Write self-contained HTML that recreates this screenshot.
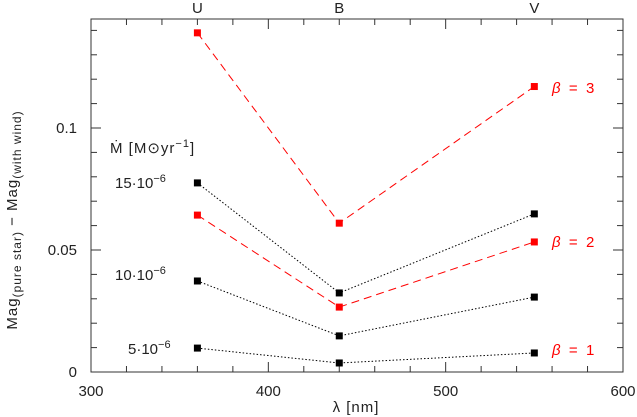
<!DOCTYPE html>
<html><head><meta charset="utf-8"><style>
body{margin:0;background:#fff}
svg{display:block;font-family:"Liberation Sans",sans-serif}
</style></head><body>
<svg id="c" width="637" height="417" viewBox="0 0 637 417">
<g id="axes"></g>
<g id="series"></g>
<g id="labels" font-size="15" fill="#222">
<text x="356" y="412" text-anchor="middle" letter-spacing="1">λ [nm]</text>
<text transform="translate(17,220) rotate(-90)" text-anchor="middle" letter-spacing="1">Mag<tspan font-size="12" dy="4">(pure star)</tspan><tspan dy="-4"> − Mag</tspan><tspan font-size="12" dy="4">(with wind)</tspan></text>
<text x="110" y="153" letter-spacing="1">Ṁ&#160;[M<tspan>⊙</tspan>yr<tspan font-size="11" dy="-6">−1</tspan><tspan dy="6">]</tspan></text>
<text x="115" y="188">15·10<tspan font-size="11" dy="-6">−6</tspan></text>
<text x="115" y="280">10·10<tspan font-size="11" dy="-6">−6</tspan></text>
<text x="128" y="354">5·10<tspan font-size="11" dy="-6">−6</tspan></text>
<text x="552" y="93" fill="#f00"><tspan font-style="italic">β</tspan>&#160;&#160;=&#160;&#160;3</text>
<text x="552" y="247" fill="#f00"><tspan font-style="italic">β</tspan>&#160;&#160;=&#160;&#160;2</text>
<text x="552" y="355" fill="#f00"><tspan font-style="italic">β</tspan>&#160;&#160;=&#160;&#160;1</text>
</g>
</svg>
<script>
const bandWl=[360,440,550];
const bandNames=["U","B","V"];
const xTicks=[300,400,500,600];
const yTicks=[0,0.05,0.1];
const yTickLabels=["0","0.05","0.1"];
const beta3=[0.139,0.061,0.117];
const beta2=[0.0643,0.0266,0.0533];
const mdot15=[0.0775,0.0324,0.0648];
const mdot10=[0.0373,0.0148,0.0307];
const mdot5=[0.0098,0.0037,0.0078];
const L=91,R=623,T=19,B=372;
const xs=v=>L+(v-300)*(R-L)/300;
const ys=v=>B-v*2440;
const NS="http://www.w3.org/2000/svg";
function mk(tag,attrs,parent){const e=document.createElementNS(NS,tag);for(const k in attrs)e.setAttribute(k,attrs[k]);parent.appendChild(e);return e;}
const ax=document.getElementById('axes');
const frame=mk('rect',{x:L,y:T,width:R-L,height:B-T,fill:'none',stroke:'#333','stroke-width':1},ax);


for(let v=300;v<=600;v+=20){const x=xs(v);const len=(v%100===0)?10:6;
mk('line',{x1:x,y1:B,x2:x,y2:B-len,stroke:'#333'},ax);
mk('line',{x1:x,y1:T,x2:x,y2:T+len,stroke:'#333'},ax);}
for(let i=0;i<=14;i++){const v=i*0.01;const y=ys(v);const len=(i%5===0)?10:6;
mk('line',{x1:L,y1:y,x2:L+len,y2:y,stroke:'#333'},ax);
mk('line',{x1:R,y1:y,x2:R-len,y2:y,stroke:'#333'},ax);}
xTicks.forEach(v=>{const t=mk('text',{x:xs(v),y:B+24,'text-anchor':'middle','font-size':15,fill:'#222'},ax);t.textContent=v;

});
yTicks.forEach((v,i)=>{const t=mk('text',{x:L-14,y:ys(v)+5,'text-anchor':'end','font-size':15,fill:'#222'},ax);t.textContent=yTickLabels[i];

});
bandWl.forEach((v,i)=>{const t=mk('text',{x:xs(v),y:13,'text-anchor':'middle','font-size':15,fill:'#222'},ax);t.textContent=bandNames[i];

});
const sg=document.getElementById('series');
function series(vals,color,dash,name){
const g=mk('g',{},sg);


const pts=vals.map((v,i)=>xs(bandWl[i])+','+ys(v)).join(' ');
mk('polyline',{points:pts,fill:'none',stroke:color,'stroke-width':1,'stroke-dasharray':dash},g);
vals.forEach((v,i)=>{const r=mk('rect',{x:xs(bandWl[i])-3.5,y:ys(v)-3.5,width:7,height:7,fill:color},g);

});
}
series(mdot15,'#000','1.5 2','series-mdot-15');
series(mdot10,'#000','1.5 2','series-mdot-10');
series(mdot5,'#000','1.5 2','series-mdot-5');
series(beta3,'#f00','8 5','series-beta-3');
series(beta2,'#f00','8 5','series-beta-2');
</script>
</body></html>
